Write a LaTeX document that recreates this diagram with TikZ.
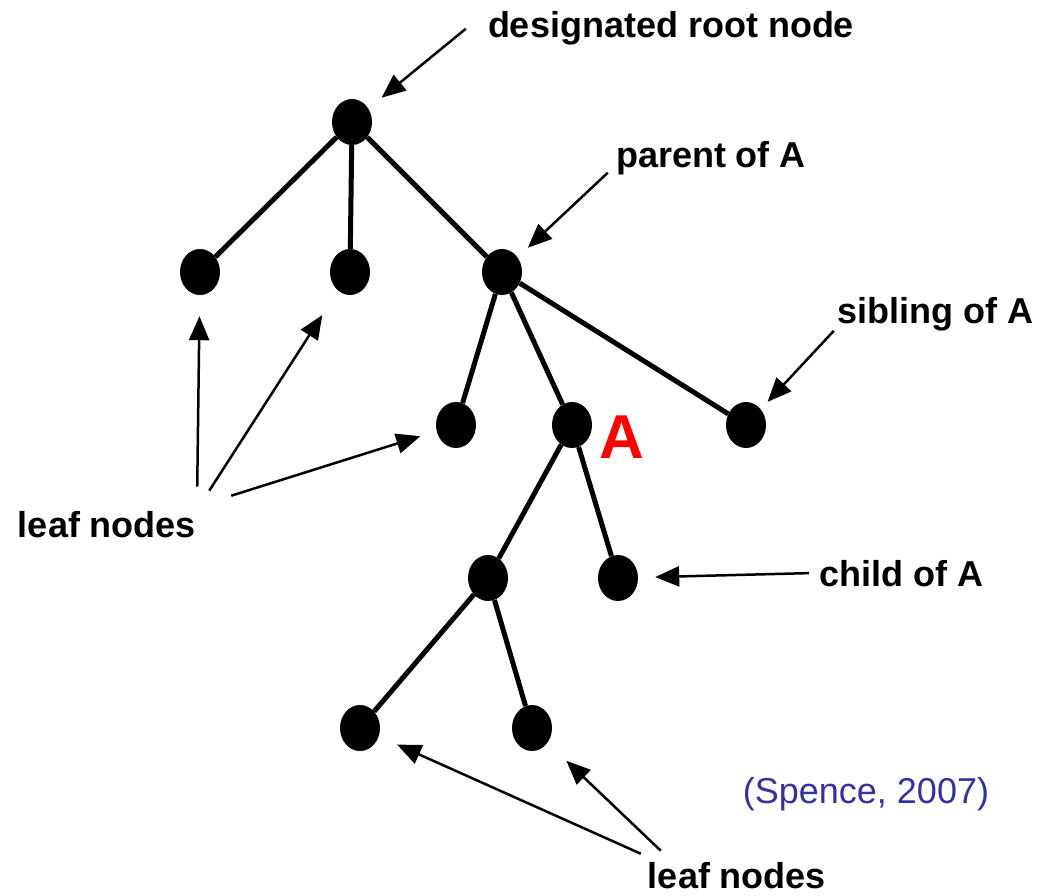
\documentclass[tikz,border=0pt]{standalone}
\usepackage{fontspec}
\setmainfont{Liberation Sans}
\usetikzlibrary{arrows.meta,shapes.geometric}
\definecolor{citeblue}{RGB}{51,51,153}
\begin{document}
\begin{tikzpicture}[x=1pt,y=-1pt,>={Triangle[length=24pt,width=20pt]},
  dot/.style={ellipse,fill=black,inner sep=0pt,minimum width=40pt,minimum height=46pt},
  link/.style={line width=5pt},
  ptr/.style={->,line width=2.5pt},
  lbl/.style={font=\bfseries\fontsize{36}{40}\selectfont,inner sep=0pt,anchor=base}]

\useasboundingbox (0,0) rectangle (1049,896);

\foreach \name/\x/\y in {root/352/122, l1/200/272, l2/350/272, par/502/272, l3/456/425, a/572/425, sib/746/425, m/488/578, ch/618/578, l4/360/728, l5/532/728}
\node[dot] (\name) at (\x,\y) {};

\path[link]
	(root) edge (l1)
	       edge (l2)
	       edge (par)
	(par)  edge (l3)
	       edge (a)
	       edge (sib)
	(a)    edge (m)
	       edge (ch)
	(m)    edge (l4)
	       edge (l5);

\node[lbl] (troot) at (671,38) {designated root node};
\node[lbl] (tpar) at (711,168) {parent of A};
\node[lbl] (tsib) at (935,323) {sibling of A};
\node[lbl] (tch) at (901,586) {child of A};
\node[lbl] (tleafl) at (107,537) {leaf nodes};
\node[lbl] (tleafb) at (737,888) {leaf nodes};
\node[inner sep=0pt,anchor=base,text=red,font=\bfseries\fontsize{62}{66}\selectfont] (ta) at (622,458) {A};
\node[inner sep=0pt,anchor=base,text=citeblue,font=\fontsize{36}{40}\selectfont] (cite) at (866,803) {(Spence, 2007)};

\draw[ptr,shorten >=17pt] ([xshift=-22pt]troot.west) -- (root);
\draw[ptr,shorten >=14pt] ([xshift=-8pt,yshift=3pt]tpar.south west) -- (par);
\draw[ptr,shorten >=10pt] ([xshift=-3pt]tsib.south west) -- (sib);
\draw[ptr,shorten >=17pt] ([xshift=-10pt]tch.west) -- (ch);
\draw[ptr,shorten >=21pt] ([xshift=1pt,yshift=24pt]tleafl.north east) -- (l1);
\draw[ptr,shorten >=29pt] ([xshift=13pt,yshift=20pt]tleafl.north east) -- (l2);
\draw[ptr,shorten >=17pt] ([xshift=35pt,yshift=15pt]tleafl.north east) -- (l3);
\draw[ptr,shorten >=20pt] ([xshift=-7pt,yshift=8pt]tleafb.north west) -- (l4);
\draw[ptr,shorten >=26pt] ([xshift=13pt,yshift=11pt]tleafb.north west) -- (l5);

\end{tikzpicture}
\end{document}
